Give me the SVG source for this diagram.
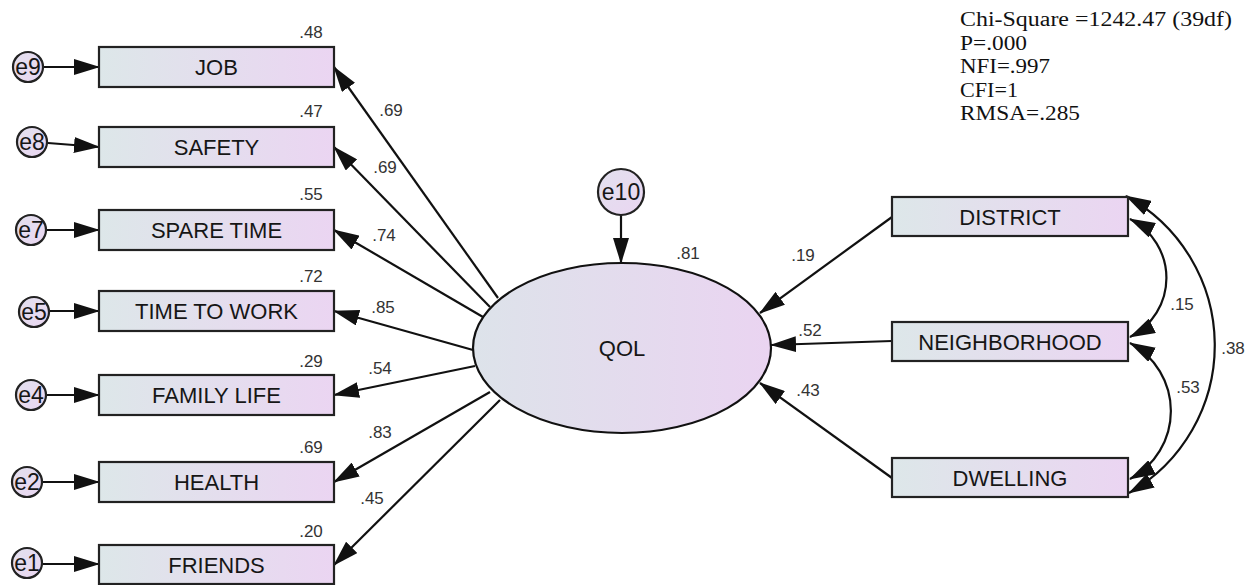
<svg xmlns="http://www.w3.org/2000/svg" width="1252" height="585" viewBox="0 0 1252 585">
<defs>
<linearGradient id="gBox" x1="0" y1="0" x2="1" y2="0">
<stop offset="0" stop-color="#dde7e9"/>
<stop offset="1" stop-color="#ebd5f2"/>
</linearGradient>
<linearGradient id="gEll" x1="0" y1="0" x2="1" y2="0">
<stop offset="0" stop-color="#dde3ea"/>
<stop offset="1" stop-color="#ead4f1"/>
</linearGradient>
<linearGradient id="gErr" x1="0" y1="0" x2="1" y2="1">
<stop offset="0" stop-color="#e2e0ee"/>
<stop offset="1" stop-color="#ead6f1"/>
</linearGradient>
<marker id="ah" viewBox="0 0 26 16" refX="25" refY="8" markerWidth="26" markerHeight="16" markerUnits="userSpaceOnUse" orient="auto-start-reverse">
<path d="M0,0 L26,8 L0,16 z" fill="#111"/>
</marker>
</defs>
<style>
.box{fill:url(#gBox);stroke:#222;stroke-width:2.2}
.ell{fill:url(#gEll);stroke:#111;stroke-width:2.2}
.err{fill:url(#gErr);stroke:#222;stroke-width:2.2}
.lbl{font-family:"Liberation Sans",Arial,sans-serif;font-size:22px;fill:#161616;text-anchor:middle}
.elbl{font-family:"Liberation Sans",Arial,sans-serif;font-size:23px;fill:#161616;text-anchor:middle}
.num{font-family:"Liberation Sans",Arial,sans-serif;font-size:17px;fill:#333;text-anchor:middle}
.fit{font-family:"Liberation Serif","Times New Roman",serif;font-size:20px;fill:#111}
.con{fill:none;stroke:#111;stroke-width:2.2;marker-end:url(#ah)}
.dbl{fill:none;stroke:#111;stroke-width:2.2;marker-start:url(#ah);marker-end:url(#ah)}
</style>
<rect width="1252" height="585" fill="#ffffff"/>

<g id="connectors">
<path class="con" d="M498,298 L334,67"/>
<path class="con" d="M490,307 L334,147"/>
<path class="con" d="M483,317 L334,230"/>
<path class="con" d="M473,350 L334,311"/>
<path class="con" d="M475,366 L334,395"/>
<path class="con" d="M490,392 L334,482"/>
<path class="con" d="M500,400 L334,565"/>
<path class="con" d="M892,217 L760,313"/>
<path class="con" d="M892,341 L771,345"/>
<path class="con" d="M892,478 L760,383"/>
<path class="con" d="M621,215 L621,263"/>
<path class="con" d="M43,67 L99,67"/>
<path class="con" d="M48,143 L99,147"/>
<path class="con" d="M47,230 L99,230"/>
<path class="con" d="M50,311 L99,311"/>
<path class="con" d="M47,395 L99,395"/>
<path class="con" d="M43,482 L99,482"/>
<path class="con" d="M43,564 L99,564"/>
<path class="dbl" d="M1130,219 A66,66 0 0 1 1130,337"/>
<path class="dbl" d="M1130,343 A77,77 0 0 1 1130,479"/>
<path class="dbl" d="M1126,196 A170,170 0 0 1 1129,493"/>
<text class="num" x="391" y="116">.69</text>
<text class="num" x="385" y="173">.69</text>
<text class="num" x="384" y="241">.74</text>
<text class="num" x="383" y="313">.85</text>
<text class="num" x="380" y="374">.54</text>
<text class="num" x="380" y="438">.83</text>
<text class="num" x="372" y="504">.45</text>
<text class="num" x="803" y="261">.19</text>
<text class="num" x="810" y="336">.52</text>
<text class="num" x="808" y="396">.43</text>
<text class="num" x="1182" y="310">.15</text>
<text class="num" x="1188" y="393">.53</text>
<text class="num" x="1233" y="354">.38</text>
</g>

<g id="node-job"><rect class="box" x="99" y="47" width="235" height="40"/><text class="lbl" x="216.5" y="75">JOB</text><text class="num" x="311" y="38">.48</text></g>
<g id="node-safety"><rect class="box" x="99" y="127" width="235" height="40"/><text class="lbl" x="216.5" y="155">SAFETY</text><text class="num" x="311" y="117">.47</text></g>
<g id="node-sparetime"><rect class="box" x="99" y="210" width="235" height="40"/><text class="lbl" x="216.5" y="238">SPARE TIME</text><text class="num" x="311" y="200">.55</text></g>
<g id="node-timetowork"><rect class="box" x="99" y="291" width="235" height="40"/><text class="lbl" x="216.5" y="319">TIME TO WORK</text><text class="num" x="311" y="282">.72</text></g>
<g id="node-familylife"><rect class="box" x="99" y="375" width="235" height="40"/><text class="lbl" x="216.5" y="403">FAMILY LIFE</text><text class="num" x="311" y="367">.29</text></g>
<g id="node-health"><rect class="box" x="99" y="462" width="235" height="40"/><text class="lbl" x="216.5" y="490">HEALTH</text><text class="num" x="311" y="453">.69</text></g>
<g id="node-friends"><rect class="box" x="99" y="545" width="235" height="39"/><text class="lbl" x="216.5" y="573">FRIENDS</text><text class="num" x="311" y="537">.20</text></g>

<g id="node-district"><rect class="box" x="892" y="197" width="236" height="39"/><text class="lbl" x="1010" y="224.5">DISTRICT</text></g>
<g id="node-neighborhood"><rect class="box" x="892" y="322" width="236" height="39"/><text class="lbl" x="1010" y="349.5">NEIGHBORHOOD</text></g>
<g id="node-dwelling"><rect class="box" x="892" y="458" width="236" height="39"/><text class="lbl" x="1010" y="485.5">DWELLING</text></g>

<g id="node-qol"><ellipse class="ell" cx="622" cy="348" rx="149" ry="85"/><text class="lbl" x="622" y="356">QOL</text><text class="num" x="688" y="259">.81</text></g>

<g id="node-e10"><circle class="err" cx="621" cy="192" r="23"/><text class="elbl" x="621" y="200">e10</text></g>
<g id="node-e9"><circle class="err" cx="28" cy="67" r="15"/><text class="elbl" x="28" y="75">e9</text></g>
<g id="node-e8"><circle class="err" cx="32" cy="142" r="15"/><text class="elbl" x="32" y="150">e8</text></g>
<g id="node-e7"><circle class="err" cx="31" cy="230" r="15"/><text class="elbl" x="31" y="238">e7</text></g>
<g id="node-e5"><circle class="err" cx="34" cy="312" r="15"/><text class="elbl" x="34" y="320">e5</text></g>
<g id="node-e4"><circle class="err" cx="31" cy="395" r="15"/><text class="elbl" x="31" y="403">e4</text></g>
<g id="node-e2"><circle class="err" cx="27" cy="482" r="15"/><text class="elbl" x="27" y="490">e2</text></g>
<g id="node-e1"><circle class="err" cx="27" cy="563" r="15"/><text class="elbl" x="27" y="571">e1</text></g>

<g id="fit-stats">
<text class="fit" x="960" y="26" textLength="272" lengthAdjust="spacingAndGlyphs">Chi-Square =1242.47 (39df)</text>
<text class="fit" x="960" y="50" textLength="67" lengthAdjust="spacingAndGlyphs">P=.000</text>
<text class="fit" x="960" y="73" textLength="90" lengthAdjust="spacingAndGlyphs">NFI=.997</text>
<text class="fit" x="960" y="97" textLength="58" lengthAdjust="spacingAndGlyphs">CFI=1</text>
<text class="fit" x="960" y="120" textLength="120" lengthAdjust="spacingAndGlyphs">RMSA=.285</text>
</g>
</svg>
